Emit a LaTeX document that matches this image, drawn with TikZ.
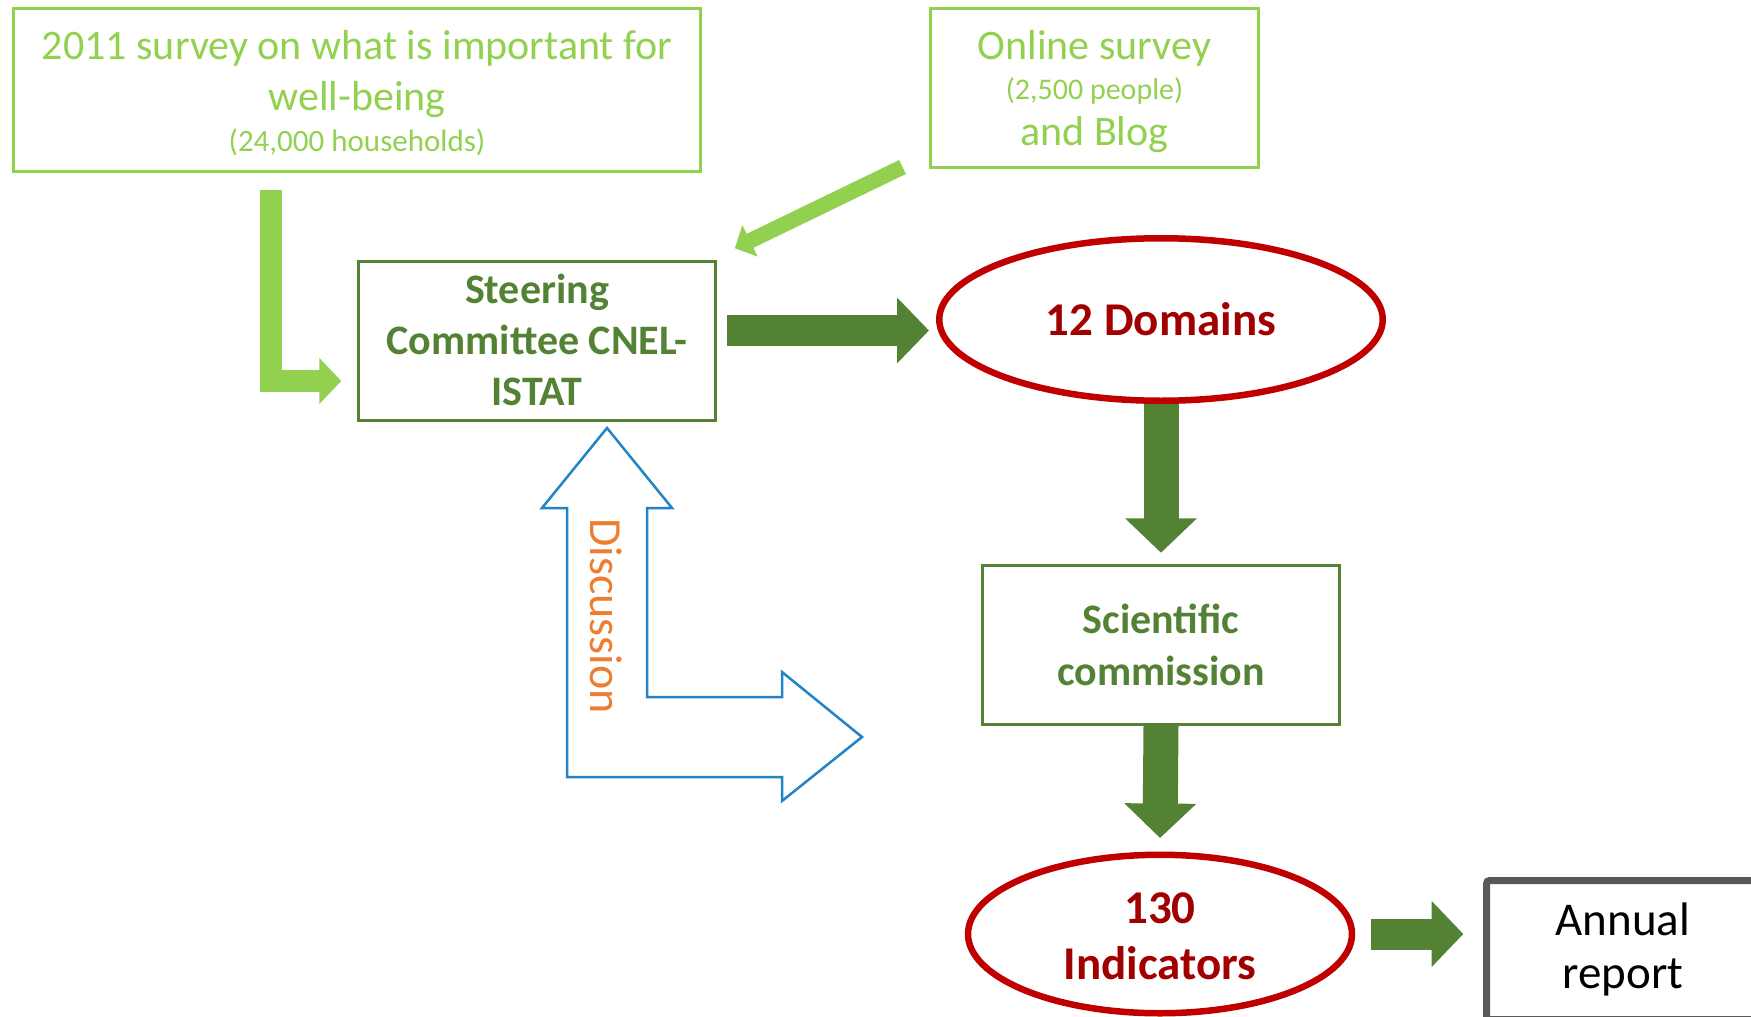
\documentclass[tikz,border=0pt]{standalone}
\usepackage{fontspec}
\setmainfont{Carlito}
\usetikzlibrary{shapes.geometric,arrows.meta}

\definecolor{lgreen}{HTML}{92D050}
\definecolor{dgreen}{HTML}{548235}
\definecolor{dred}{HTML}{C00000}
\definecolor{txtred}{HTML}{A00000}
\definecolor{lblue}{HTML}{2383C4}
\definecolor{orng}{HTML}{ED7D31}
\definecolor{dgray}{HTML}{595959}

\begin{document}
\begin{tikzpicture}[x=1pt, y=-1pt, line join=miter, inner sep=0pt,
  srcbox/.style={draw=lgreen, line width=3pt, text=lgreen, align=center, font=\fontsize{42}{51}\selectfont},
  stepbox/.style={draw=dgreen, line width=2.5pt, text=dgreen, align=center, minimum width=357pt, minimum height=159pt},
  result/.style={ellipse, draw=dred, line width=6.5pt, text=txtred, align=center, font=\bfseries\fontsize{47}{56}\selectfont},
  bigarrow/.style={draw=dgreen, fill=dgreen}]
\useasboundingbox (0,0) rectangle (1751,1017);
\node (survey) at (357,90) [srcbox, minimum width=687pt, text height=143.2pt, text depth=19.8pt] {2011 survey on what is important for\\ well-being\\[-9.5pt] {\fontsize{31}{36}\selectfont (24,000 households)}};
\node (online) at (1094.5,88) [srcbox, minimum width=328pt, text height=137.2pt, text depth=21.8pt] {Online survey\\[-11.3pt] {\fontsize{30}{36}\selectfont (2,500 people)}\\[-4.3pt] and Blog};
\node (steer) at (537,341) [stepbox, text height=143.5pt, text depth=15.5pt, font=\bfseries\fontsize{42}{51}\selectfont] {Steering\\ Committee CNEL-\\ ISTAT};
\node (dom) at (1161,319.5) [result, minimum width=443.5pt, minimum height=162.5pt] {12 Domains};
\node (sci) at (1161,645) [stepbox, text height=119.5pt, text depth=39.5pt, font=\bfseries\fontsize{42}{51.7}\selectfont] {Scientific\\ commission};
\node (ind) at (1160,934) [result, minimum width=384pt, minimum height=158.5pt, text height=92pt, text depth=1.4pt] {130\\ Indicators};
\node (report) at (1623,950) [draw=dgray, line width=7pt, rounded corners=3pt, minimum width=273pt, minimum height=139pt, text height=90pt, text depth=13.4pt, align=center, font=\fontsize{47}{53.3}\selectfont] {Annual\\ report};
\draw[lblue, line width=2.5pt] (607,428) -- (672,508) -- (647,508) -- (647,697) -- (782,697) -- (782,672) -- (862,737) -- (782,801) -- (782,777) -- (567,777) -- (567,508) -- (542,508) -- cycle;
\node (disc) at (606,616) [rotate=-90, text=orng, font=\fontsize{46}{55}\selectfont] {Discussion};
\draw[lgreen, line width=21.5pt, -{Triangle[length=22pt,width=45pt]}] ([shift={(-86,17)}]survey.south) |- ([shift={(-16,40)}]steer.west);
\draw[lgreen, line width=15.5pt, -{Triangle[length=17pt,width=34pt]}] ([shift={(-26.5,-2)}]online.south west) -- ([shift={(18,-12)}]steer.north east);
\draw[bigarrow, line width=31.7pt, -{Triangle[length=32pt,width=64pt]}] ([shift={(10,-10.5)}]steer.east) -- ([shift={(-7,-10.5)}]steer.east -| dom.west);
\draw[bigarrow, line width=35pt, -{Triangle[length=34.5pt,width=70pt]}] (dom.south) -- ([shift={(0,-11.5)}]sci.north);
\draw[bigarrow, line width=35pt, -{Triangle[length=34.5pt,width=70pt]}] (sci.south) -- ([shift={(0,-13.5)}]ind.north);
\draw[bigarrow, line width=31pt, -{Triangle[length=31.6pt,width=64pt]}] ([xshift=15.5pt]ind.east) -- ([xshift=-19.7pt]ind.east -| report.west);
\end{tikzpicture}
\end{document}
